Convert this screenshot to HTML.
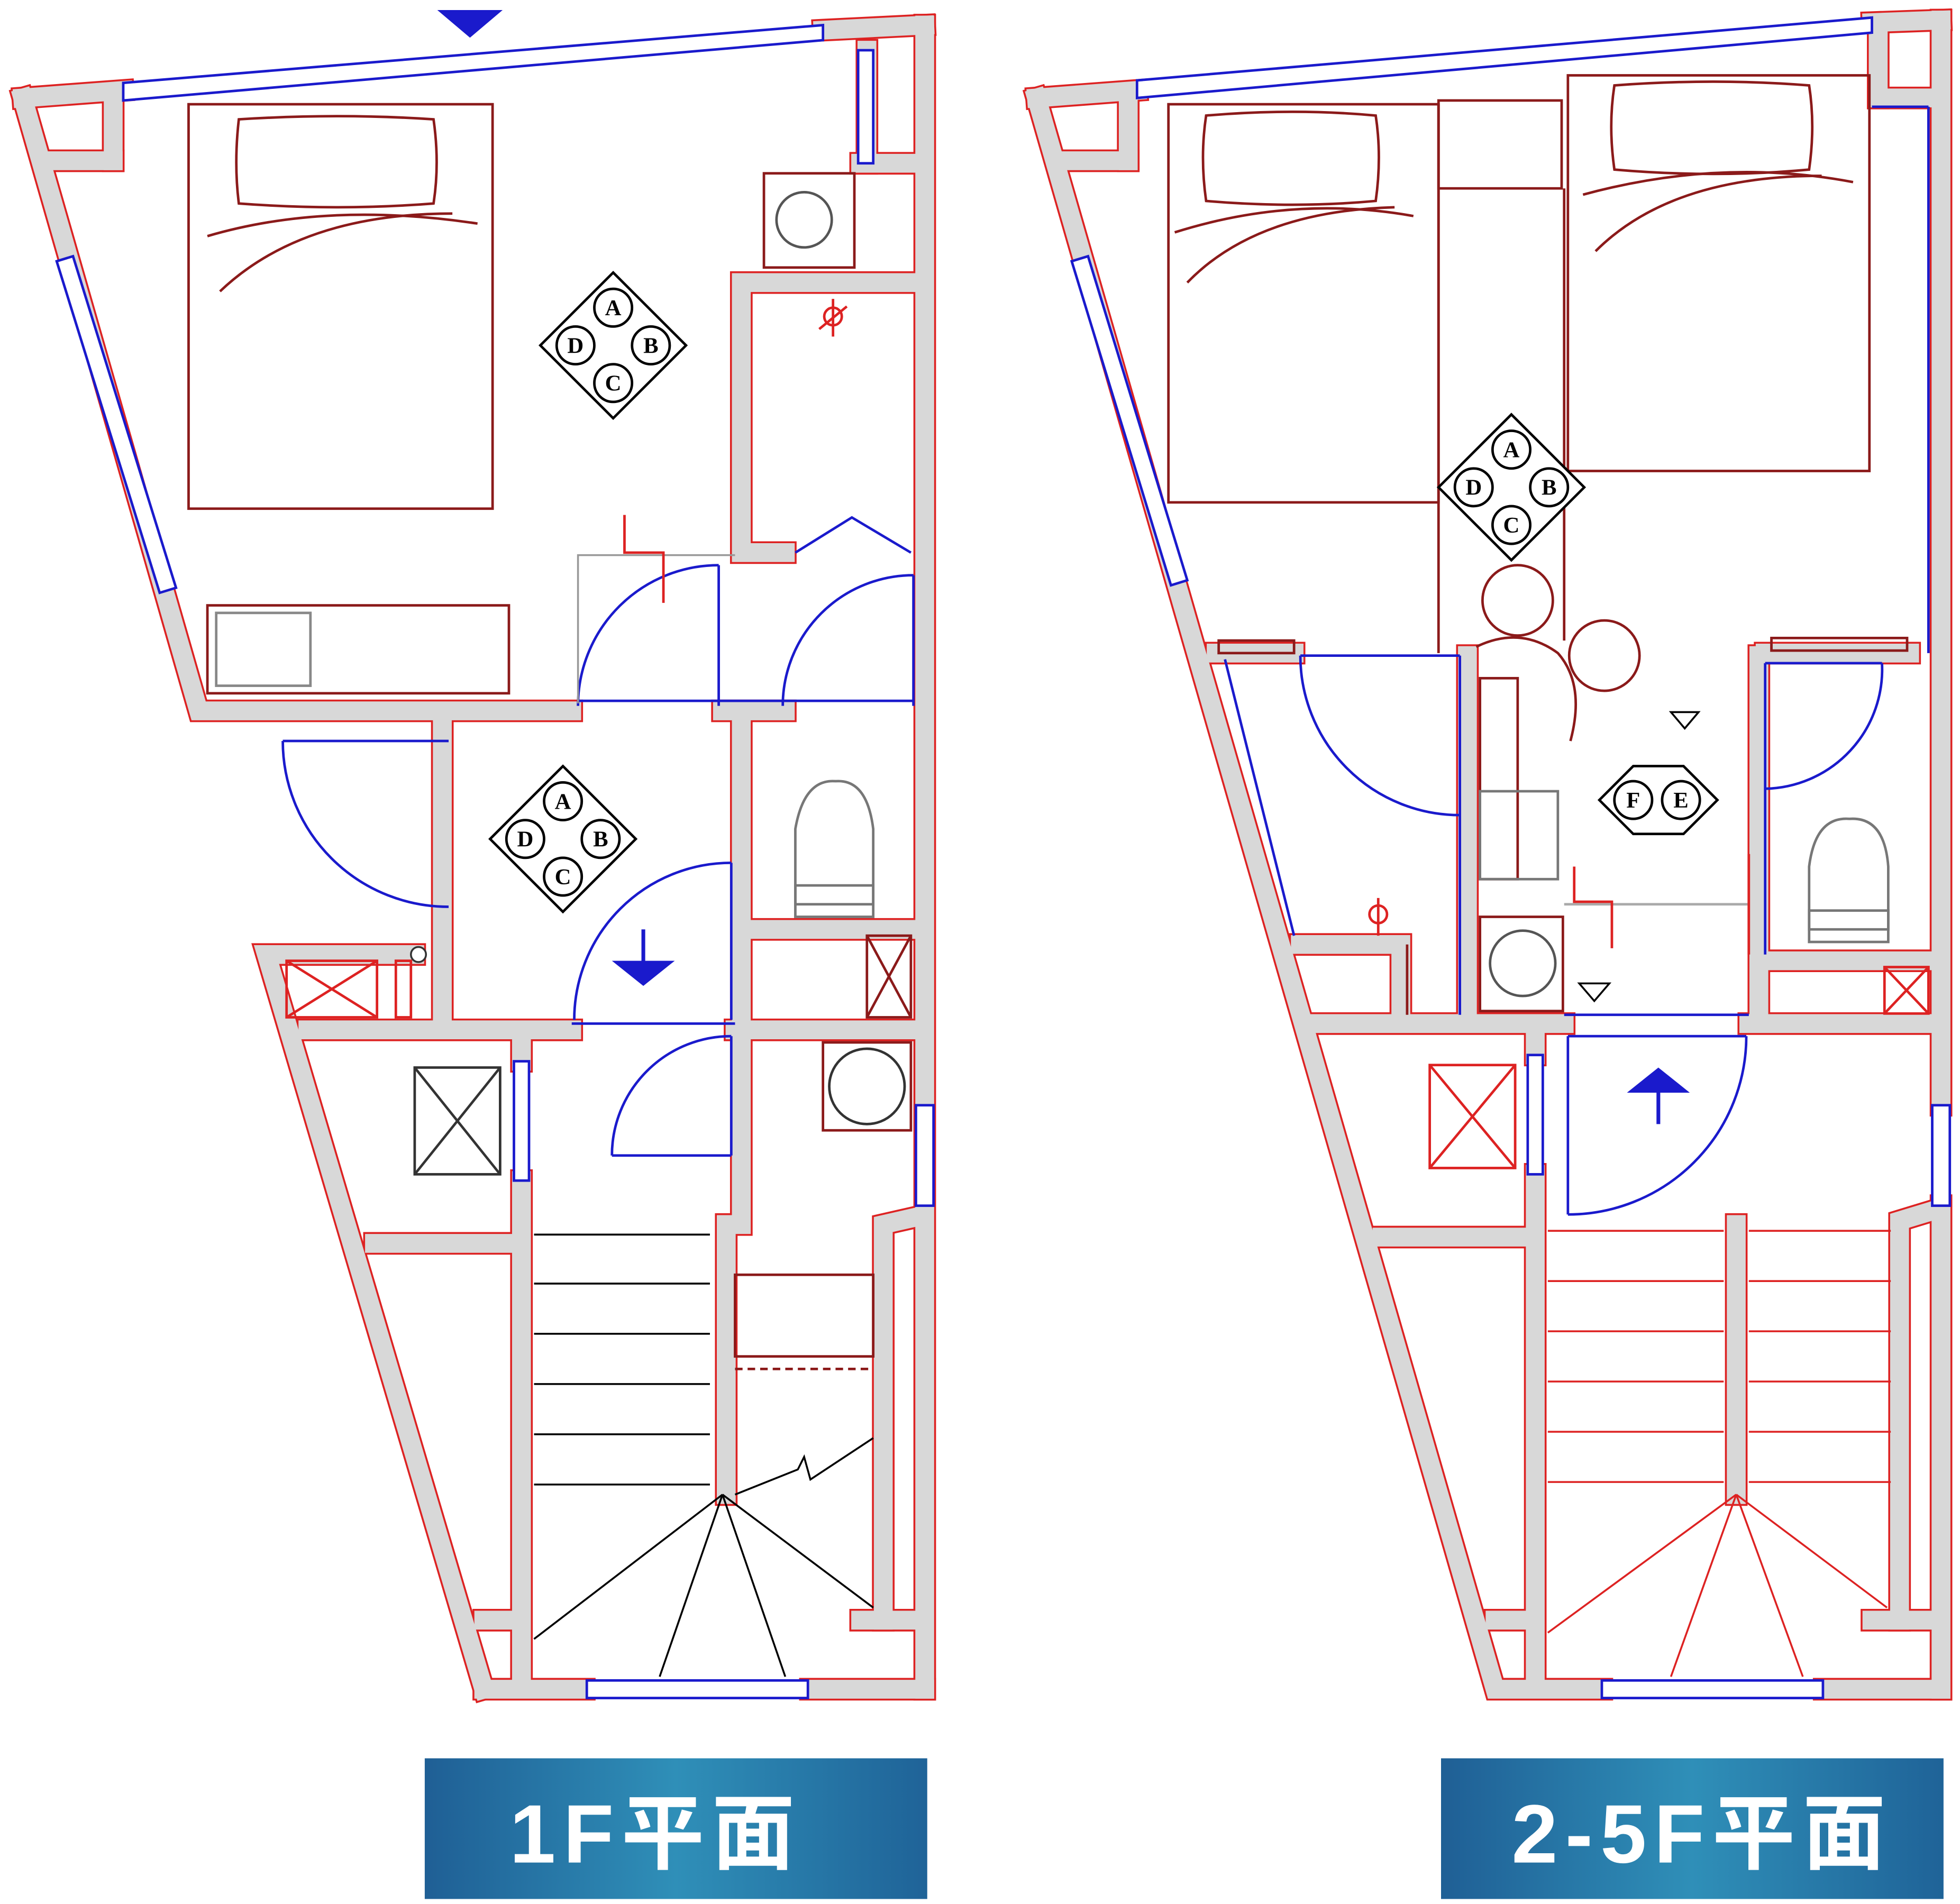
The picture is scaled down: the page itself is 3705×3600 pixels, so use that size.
<!DOCTYPE html>
<html><head><meta charset="utf-8"><style>
html,body{margin:0;padding:0;background:#fff;}
svg{display:block;}
</style></head><body>
<svg width="3705" height="3600" viewBox="0 0 1560 1516" xmlns="http://www.w3.org/2000/svg">
<defs>
<linearGradient id="g" x1="0" x2="1" y1="0" y2="0">
<stop offset="0" stop-color="#1f5f95"/><stop offset="0.5" stop-color="#2f8fb8"/><stop offset="1" stop-color="#1f6398"/>
</linearGradient>
<g id="abcd">
<polygon points="0,-58 58,0 0,58 -58,0" fill="#fff" stroke="#000" stroke-width="2"/>
<circle cx="0" cy="-30" r="15" fill="#fff" stroke="#000" stroke-width="2"/>
<circle cx="30" cy="0" r="15" fill="#fff" stroke="#000" stroke-width="2"/>
<circle cx="0" cy="30" r="15" fill="#fff" stroke="#000" stroke-width="2"/>
<circle cx="-30" cy="0" r="15" fill="#fff" stroke="#000" stroke-width="2"/>
<g font-family="Liberation Serif, serif" font-weight="bold" font-size="18" text-anchor="middle">
<text x="0" y="-24">A</text><text x="30" y="6">B</text><text x="0" y="36">C</text><text x="-30" y="6">D</text></g>
</g>
</defs>

<g fill="none" stroke-linejoin="miter" stroke-linecap="square">
<g id="w1">
<polyline points="18,78 158,566 455,566"/>
<line x1="18" y1="78" x2="98" y2="72"/>
<line x1="655" y1="24" x2="736" y2="20"/>
<line x1="736" y1="20" x2="736" y2="1345"/>
<line x1="385" y1="1345" x2="465" y2="1345"/>
<line x1="645" y1="1345" x2="736" y2="1345"/>
<polyline points="330,760 212,760 385,1345"/>
<polyline points="625,440 590,440 590,225 725,225"/>
<line x1="575" y1="566" x2="625" y2="566"/>
<line x1="352" y1="575" x2="352" y2="812"/>
<line x1="590" y1="575" x2="590" y2="812"/>
<line x1="245" y1="820" x2="455" y2="820"/>
<line x1="585" y1="820" x2="725" y2="820"/>
<line x1="590" y1="830" x2="590" y2="975"/>
<line x1="415" y1="830" x2="415" y2="845"/>
<line x1="415" y1="940" x2="415" y2="1335"/>
<line x1="578" y1="975" x2="578" y2="1190"/>
<polyline points="725,970 703,975 703,1290"/>
<line x1="298" y1="990" x2="408" y2="990"/>
<line x1="600" y1="740" x2="725" y2="740"/>
<line x1="685" y1="130" x2="725" y2="130"/>
<line x1="690" y1="40" x2="690" y2="130"/>
<line x1="685" y1="1290" x2="725" y2="1290"/>
<line x1="385" y1="1290" x2="410" y2="1290"/>
<line x1="40" y1="128" x2="90" y2="128"/>
<line x1="90" y1="78" x2="90" y2="128"/>
</g>
</g>
<g fill="none" stroke-linecap="square">
<use href="#w1" stroke="#d22" stroke-width="18"/>
<use href="#w1" stroke="#d8d8d8" stroke-width="15"/>
</g>

<g id="w2" fill="none">
<polyline points="825,78 1190,1345 1275,1345"/>
<line x1="825" y1="78" x2="905" y2="72"/>
<line x1="1490" y1="18" x2="1545" y2="16"/>
<line x1="1545" y1="16" x2="1545" y2="880"/>
<line x1="1545" y1="960" x2="1545" y2="1345"/>
<line x1="1452" y1="1345" x2="1545" y2="1345"/>
<line x1="1050" y1="815" x2="1245" y2="815"/>
<line x1="1392" y1="815" x2="1540" y2="815"/>
<line x1="1168" y1="522" x2="1168" y2="808"/>
<line x1="1400" y1="522" x2="1400" y2="808"/>
<line x1="968" y1="520" x2="1030" y2="520"/>
<line x1="1405" y1="520" x2="1520" y2="520"/>
<line x1="1222" y1="825" x2="1222" y2="840"/>
<line x1="1222" y1="935" x2="1222" y2="1335"/>
<line x1="1382" y1="975" x2="1382" y2="1190"/>
<polyline points="1535,965 1512,972 1512,1290"/>
<line x1="1100" y1="985" x2="1215" y2="985"/>
<polyline points="1035,752 1115,752 1115,808"/>
<polyline points="1410,765 1535,765"/>
<line x1="1495" y1="30" x2="1495" y2="78"/>
<line x1="1495" y1="78" x2="1535" y2="78"/>
<line x1="850" y1="128" x2="898" y2="128"/>
<line x1="898" y1="78" x2="898" y2="128"/>
<line x1="1490" y1="1290" x2="1535" y2="1290"/>
<line x1="1190" y1="1290" x2="1215" y2="1290"/>
</g>
<g fill="none" stroke-linecap="square">
<use href="#w2" stroke="#d22" stroke-width="18"/>
<use href="#w2" stroke="#d8d8d8" stroke-width="15"/>
</g>

<g fill="#fff" stroke="#1a1acc" stroke-width="2">
<polygon points="98,66 655,20 655,32 98,80"/>
<polygon points="45,208 58,204 140,468 127,472"/>
<rect x="467" y="1338" width="176" height="14"/>
<rect x="729" y="880" width="14" height="80"/>
<rect x="409" y="845" width="12" height="95"/>
<rect x="683" y="40" width="12" height="90"/>
</g>
<g fill="#fff" stroke="#1a1acc" stroke-width="2">
<polygon points="905,64 1490,14 1490,26 905,78"/>
<polygon points="853,208 866,204 945,462 932,466"/>
<rect x="1275" y="1338" width="176" height="14"/>
<rect x="1538" y="880" width="14" height="80"/>
<rect x="1216" y="840" width="12" height="95"/>
<line x1="1490" y1="85" x2="1535" y2="85"/>
<line x1="1535" y1="85" x2="1535" y2="520"/>
</g>

<g fill="none" stroke="#8b1a1a" stroke-width="2">
<rect x="150" y="83" width="242" height="322"/>
<path d="M190,95 Q270,90 345,95 Q350,130 345,162 Q270,168 190,162 Q186,130 190,95Z"/>
<path d="M165,188 Q260,160 380,178"/>
<path d="M175,232 Q240,170 360,170"/>
<rect x="165" y="482" width="240" height="70"/>
<rect x="172" y="488" width="75" height="58" stroke="#888"/>
<rect x="608" y="138" width="72" height="75"/>
<circle cx="640" cy="175" r="22" stroke="#555"/>
<rect x="655" y="830" width="70" height="70"/>
<circle cx="690" cy="865" r="30" stroke="#333"/>
<rect x="585" y="1015" width="110" height="65"/>
<line x1="585" y1="1090" x2="695" y2="1090" stroke-dasharray="6,4"/>
<rect x="690" y="745" width="35" height="65"/>
<line x1="690" y1="745" x2="725" y2="810"/><line x1="725" y1="745" x2="690" y2="810"/>
<rect x="228" y="765" width="72" height="45" stroke="#d22"/>
<line x1="228" y1="765" x2="300" y2="810" stroke="#d22"/><line x1="300" y1="765" x2="228" y2="810" stroke="#d22"/>
<rect x="315" y="765" width="12" height="45" stroke="#d22"/>
</g>
<g fill="none" stroke="#333" stroke-width="2">
<rect x="330" y="850" width="68" height="85"/>
<line x1="330" y1="850" x2="398" y2="935"/><line x1="398" y1="850" x2="330" y2="935"/>
<path d="M633,720 L633,660 Q640,620 665,622 Q690,620 695,660 L695,720 Z" stroke="#777"/>
<rect x="633" y="705" width="62" height="25" stroke="#777"/>
</g>
<g stroke="#000" stroke-width="1.5">
<line x1="425" y1="983" x2="565" y2="983"/><line x1="425" y1="1022" x2="565" y2="1022"/>
<line x1="425" y1="1062" x2="565" y2="1062"/><line x1="425" y1="1102" x2="565" y2="1102"/>
<line x1="425" y1="1142" x2="565" y2="1142"/><line x1="425" y1="1182" x2="565" y2="1182"/>
<line x1="575" y1="1190" x2="425" y2="1305"/><line x1="575" y1="1190" x2="525" y2="1335"/>
<line x1="575" y1="1190" x2="625" y2="1335"/><line x1="575" y1="1190" x2="695" y2="1280"/>
<polyline points="585,1190 635,1170 640,1160 645,1178 695,1145" fill="none"/>
</g>
<g fill="none" stroke="#1a1acc" stroke-width="2">
<line x1="572" y1="450" x2="572" y2="562"/><path d="M572,450 A112,112 0 0 0 460,562"/>
<line x1="727" y1="458" x2="727" y2="562"/><path d="M727,458 A104,104 0 0 0 623,562"/>
<line x1="460" y1="558" x2="727" y2="558"/>
<line x1="225" y1="590" x2="357" y2="590"/><path d="M225,590 A132,132 0 0 0 357,722"/>
<line x1="582" y1="687" x2="582" y2="812"/><path d="M582,687 A125,125 0 0 0 457,812"/>
<line x1="455" y1="815" x2="585" y2="815"/>
<line x1="582" y1="825" x2="582" y2="920"/><path d="M582,825 A95,95 0 0 0 487,920"/>
<line x1="487" y1="920" x2="582" y2="920"/>
<polyline points="633,440 678,412 725,440"/>
</g>
<g fill="none" stroke="#999" stroke-width="1.5"><polyline points="460,560 460,442 585,442"/></g>
<g fill="none" stroke="#d22" stroke-width="2">
<polyline points="497,410 497,440 528,440 528,480"/>
<circle cx="663" cy="252" r="7"/><line x1="663" y1="238" x2="663" y2="268"/><line x1="652" y1="262" x2="674" y2="244"/>
</g>
<circle cx="333" cy="760" r="6" fill="#fff" stroke="#333" stroke-width="1.5"/>
<polygon points="348,8 400,8 374,30" fill="#1a1acc"/>
<line x1="512" y1="740" x2="512" y2="770" stroke="#1a1acc" stroke-width="3"/>
<polygon points="487,765 537,765 512,785" fill="#1a1acc"/>
<use href="#abcd" x="488" y="275"/>
<use href="#abcd" x="448" y="668"/>

<g fill="none" stroke="#8b1a1a" stroke-width="2">
<rect x="930" y="83" width="215" height="317"/>
<path d="M960,92 Q1030,86 1095,92 Q1100,125 1095,160 Q1030,166 960,160 Q955,125 960,92Z"/>
<path d="M935,185 Q1030,155 1125,172"/><path d="M945,225 Q1000,168 1110,165"/>
<rect x="1248" y="60" width="240" height="315"/>
<path d="M1285,68 Q1365,62 1440,68 Q1445,100 1440,135 Q1365,142 1285,135 Q1280,100 1285,68Z"/>
<path d="M1260,155 Q1370,125 1475,145"/><path d="M1270,200 Q1330,140 1450,140"/>
<rect x="1145" y="80" width="98" height="70"/>
<line x1="1145" y1="83" x2="1145" y2="520"/><line x1="1245" y1="150" x2="1245" y2="510"/>
<circle cx="1208" cy="478" r="28"/><circle cx="1277" cy="522" r="28"/>
<path d="M1175,515 Q1210,498 1240,520 Q1262,545 1250,590"/>
<rect x="1178" y="540" width="30" height="160"/>
<rect x="1178" y="630" width="62" height="70" stroke="#777"/>
<rect x="1178" y="730" width="66" height="75"/>
<circle cx="1212" cy="767" r="26" stroke="#555"/>
<rect x="1138" y="848" width="68" height="82" stroke="#d22"/>
<line x1="1138" y1="848" x2="1206" y2="930" stroke="#d22"/><line x1="1206" y1="848" x2="1138" y2="930" stroke="#d22"/>
<rect x="1500" y="770" width="35" height="37" stroke="#d22"/>
<line x1="1500" y1="770" x2="1535" y2="807" stroke="#d22"/><line x1="1535" y1="770" x2="1500" y2="807" stroke="#d22"/>
<line x1="1120" y1="752" x2="1120" y2="808"/>
<rect x="1410" y="508" width="108" height="10"/>
<rect x="970" y="510" width="60" height="10"/>
</g>
<g fill="none" stroke="#777" stroke-width="2">
<path d="M1440,740 L1440,690 Q1445,650 1472,652 Q1500,650 1503,690 L1503,740 Z"/>
<rect x="1440" y="725" width="63" height="25"/>
<polyline points="1245,720 1392,720" stroke="#aaa"/>
</g>
<g fill="none" stroke="#d22" stroke-width="2">
<polyline points="1253,690 1253,718 1283,718 1283,755"/>
<line x1="1392" y1="680" x2="1392" y2="760"/>
<circle cx="1097" cy="728" r="7"/><line x1="1097" y1="715" x2="1097" y2="745"/>
</g>
<g stroke="#d22" stroke-width="1.5">
<line x1="1232" y1="980" x2="1372" y2="980"/><line x1="1392" y1="980" x2="1505" y2="980"/>
<line x1="1232" y1="1020" x2="1372" y2="1020"/><line x1="1392" y1="1020" x2="1505" y2="1020"/>
<line x1="1232" y1="1060" x2="1372" y2="1060"/><line x1="1392" y1="1060" x2="1505" y2="1060"/>
<line x1="1232" y1="1100" x2="1372" y2="1100"/><line x1="1392" y1="1100" x2="1505" y2="1100"/>
<line x1="1232" y1="1140" x2="1372" y2="1140"/><line x1="1392" y1="1140" x2="1505" y2="1140"/>
<line x1="1232" y1="1180" x2="1372" y2="1180"/><line x1="1392" y1="1180" x2="1505" y2="1180"/>
<line x1="1382" y1="1190" x2="1232" y2="1300"/><line x1="1382" y1="1190" x2="1330" y2="1335"/>
<line x1="1382" y1="1190" x2="1435" y2="1335"/><line x1="1382" y1="1190" x2="1502" y2="1280"/>
</g>
<g fill="none" stroke="#1a1acc" stroke-width="2">
<line x1="1035" y1="522" x2="1162" y2="522"/><path d="M1035,522 A127,127 0 0 0 1162,649"/>
<line x1="1162" y1="522" x2="1162" y2="808"/>
<line x1="1498" y1="528" x2="1405" y2="528"/><path d="M1498,528 A95,95 0 0 1 1405,628"/>
<line x1="1405" y1="528" x2="1405" y2="760"/>
<line x1="1248" y1="825" x2="1390" y2="825"/><path d="M1390,825 A142,142 0 0 1 1248,967"/>
<line x1="1248" y1="825" x2="1248" y2="967"/>
<line x1="1245" y1="808" x2="1392" y2="808"/>
<line x1="975" y1="525" x2="1030" y2="745"/>
</g>
<polygon points="1330,567 1352,567 1341,580" fill="#fff" stroke="#000" stroke-width="1.5"/>
<polygon points="1257,783 1281,783 1269,797" fill="#fff" stroke="#000" stroke-width="1.5"/>
<line x1="1320" y1="868" x2="1320" y2="895" stroke="#1a1acc" stroke-width="3"/>
<polygon points="1295,870 1345,870 1320,850" fill="#1a1acc"/>
<use href="#abcd" x="1203" y="388"/>
<g>
<polygon points="1273,637 1300,610 1340,610 1367,637 1340,664 1300,664" fill="#fff" stroke="#000" stroke-width="2"/>
<circle cx="1300" cy="637" r="15" fill="#fff" stroke="#000" stroke-width="2"/>
<circle cx="1338" cy="637" r="15" fill="#fff" stroke="#000" stroke-width="2"/>
<g font-family="Liberation Serif, serif" font-weight="bold" font-size="18" text-anchor="middle">
<text x="1300" y="643">F</text><text x="1338" y="643">E</text></g>
</g>

<rect x="338" y="1400" width="400" height="112" fill="url(#g)"/>
<rect x="1147" y="1400" width="400" height="112" fill="url(#g)"/>
<g font-family="Liberation Sans, Noto Sans CJK JP, sans-serif" font-weight="bold" font-size="66" fill="#fff" text-anchor="middle" letter-spacing="6">
<text x="522" y="1483">1F平面</text>
<text x="1355" y="1483">2-5F平面</text>
</g>
</svg>
</body></html>
